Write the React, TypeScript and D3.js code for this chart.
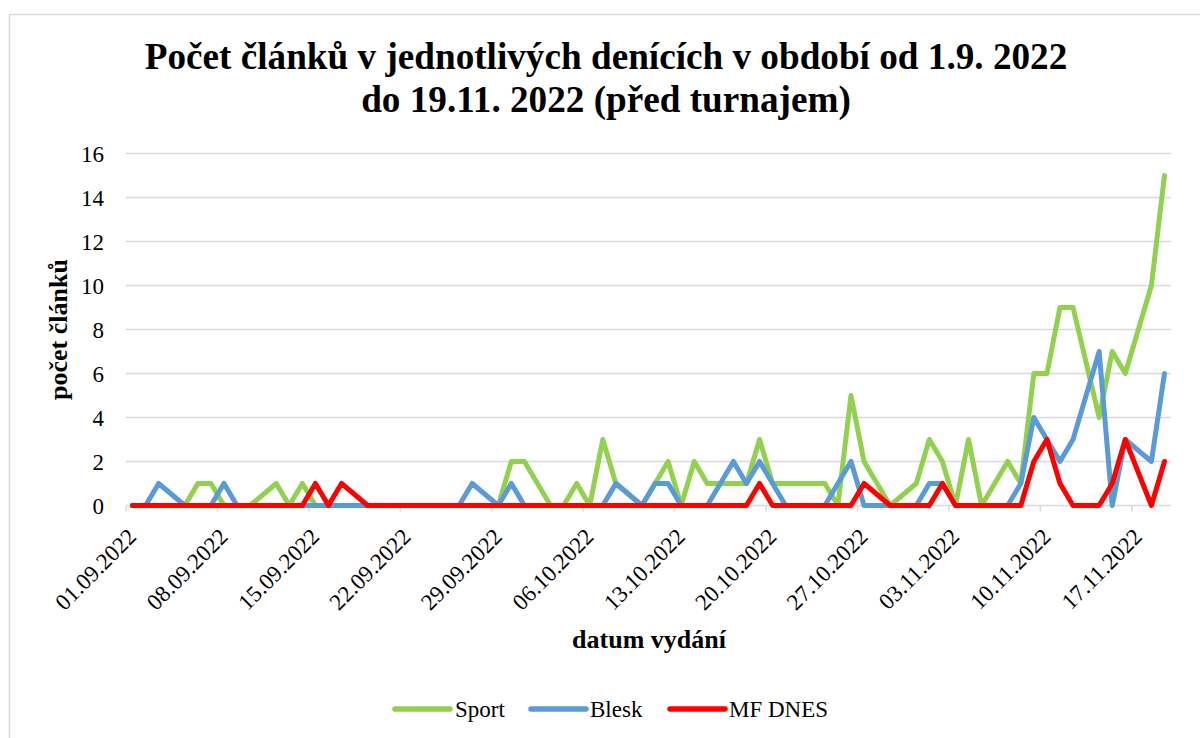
import React from 'react';
import * as d3 from 'd3';

// datumy vydání (bez nedělí a svátků)
const datumy = [
  '01.09.2022', '02.09.2022', '03.09.2022', '05.09.2022', '06.09.2022', '07.09.2022', '08.09.2022',
  '09.09.2022', '10.09.2022', '12.09.2022', '13.09.2022', '14.09.2022', '15.09.2022', '16.09.2022',
  '17.09.2022', '19.09.2022', '20.09.2022', '21.09.2022', '22.09.2022', '23.09.2022', '24.09.2022',
  '26.09.2022', '27.09.2022', '29.09.2022', '30.09.2022', '01.10.2022', '03.10.2022', '04.10.2022',
  '05.10.2022', '06.10.2022', '07.10.2022', '08.10.2022', '10.10.2022', '11.10.2022', '12.10.2022',
  '13.10.2022', '14.10.2022', '15.10.2022', '17.10.2022', '18.10.2022', '19.10.2022', '20.10.2022',
  '21.10.2022', '22.10.2022', '24.10.2022', '25.10.2022', '26.10.2022', '27.10.2022', '29.10.2022',
  '31.10.2022', '01.11.2022', '02.11.2022', '03.11.2022', '04.11.2022', '05.11.2022', '07.11.2022',
  '08.11.2022', '09.11.2022', '10.11.2022', '11.11.2022', '12.11.2022', '14.11.2022', '15.11.2022',
  '16.11.2022', '18.11.2022', '19.11.2022',
];

const sport = [
  0, 0, 0, 0, 1, 1, 0,
  0, 0, 1, 0, 1, 0, 0,
  0, 0, 0, 0, 0, 0, 0,
  0, 0, 0, 2, 2, 0, 0,
  1, 0, 3, 1, 0, 1, 2,
  0, 2, 1, 1, 1, 3, 1,
  1, 1, 1, 0, 5, 2, 0,
  1, 3, 2, 0, 3, 0, 2,
  1, 6, 6, 9, 9, 4, 7,
  6, 10, 15,
];

const blesk = [
  0, 0, 1, 0, 0, 0, 1,
  0, 0, 0, 0, 0, 0, 0,
  0, 0, 0, 0, 0, 0, 0,
  0, 1, 0, 1, 0, 0, 0,
  0, 0, 0, 1, 0, 1, 1,
  0, 0, 0, 2, 1, 2, 1,
  0, 0, 0, 1, 2, 0, 0,
  0, 1, 1, 0, 0, 0, 0,
  1, 4, 3, 2, 3, 7, 0,
  3, 2, 6,
];

const mfDnes = [
  0, 0, 0, 0, 0, 0, 0,
  0, 0, 0, 0, 0, 1, 0,
  1, 0, 0, 0, 0, 0, 0,
  0, 0, 0, 0, 0, 0, 0,
  0, 0, 0, 0, 0, 0, 0,
  0, 0, 0, 0, 0, 1, 0,
  0, 0, 0, 0, 0, 1, 0,
  0, 0, 1, 0, 0, 0, 0,
  0, 2, 3, 1, 0, 0, 1,
  3, 0, 2,
];

const yTicks = [0, 2, 4, 6, 8, 10, 12, 14, 16];

const serie = [
  { nazev: 'Sport', hodnoty: sport, barva: '#92D050' },
  { nazev: 'Blesk', hodnoty: blesk, barva: '#5B9BD5' },
  { nazev: 'MF DNES', hodnoty: mfDnes, barva: '#FF0000' },
];

const parse = d3.utcParse('%d.%m.%Y');
const formatDatum = d3.utcFormat('%d.%m.%Y');

export default function App() {
  const width = 1200;
  const height = 738;
  const left = 126;
  const right = 1171;
  const top = 153.5;
  const bottom = 505.5;

  const start = parse('01.09.2022') as Date;
  const end = d3.utcDay.offset(parse('19.11.2022') as Date, 1);

  const x = d3.scaleUtc().domain([start, end]).range([left, right]);
  const y = d3.scaleLinear().domain([0, 16]).range([bottom, top]);

  const dny = datumy.map((d) => d3.utcHour.offset(parse(d) as Date, 12));
  const xTicks = d3.utcDay.range(start, end, 7);

  const font = "'Liberation Serif', 'Times New Roman', serif";

  const line = d3.line<number>()
    .x((_, i) => x(dny[i]))
    .y((d) => y(d));

  const legenda = [
    { x0: 395, tx: 455 },
    { x0: 531, tx: 590 },
    { x0: 670, tx: 729 },
  ];

  return (
    <svg
      width={width}
      height={height}
      style={{ position: 'absolute', left: 0, top: 0, background: '#fff', fontFamily: font }}
    >
      <rect x={9.5} y={14.5} width={1200} height={740} fill="#fff" stroke="#d9d9d9" strokeWidth={1.5} />

      <text x={606} y={69} textAnchor="middle" fontSize={37.2} fontWeight="bold" fill="#000">
        Počet článků v jednotlivých denících v období od 1.9. 2022
      </text>
      <text x={606} y={112} textAnchor="middle" fontSize={37.2} fontWeight="bold" fill="#000">
        do 19.11. 2022 (před turnajem)
      </text>

      {yTicks.map((t) => (
        <g key={t}>
          {t > 0 && (
            <line x1={left} x2={right} y1={y(t)} y2={y(t)} stroke="#d9d9d9" strokeWidth={1.5} />
          )}
          <text x={104} y={y(t)} dy="0.35em" textAnchor="end" fontSize={23} fill="#000">
            {t}
          </text>
        </g>
      ))}

      <line x1={left} x2={right} y1={bottom} y2={bottom} stroke="#d9d9d9" strokeWidth={1.5} />
      {xTicks.map((t) => (
        <g key={t.getTime()}>
          <line x1={x(t)} x2={x(t)} y1={bottom} y2={bottom + 6} stroke="#d9d9d9" strokeWidth={1.5} />
          <text
            transform={`translate(${x(t) + 6},${bottom + 27}) rotate(-45)`}
            dy="0.35em"
            textAnchor="end"
            fontSize={23}
            fill="#000"
          >
            {formatDatum(t)}
          </text>
        </g>
      ))}

      {serie.map((s) => (
        <path
          key={s.nazev}
          d={line(s.hodnoty) ?? ''}
          fill="none"
          stroke={s.barva}
          strokeWidth={5}
          strokeLinejoin="round"
          strokeLinecap="round"
        />
      ))}

      <text
        transform={`translate(67,${(top + bottom) / 2}) rotate(-90)`}
        textAnchor="middle"
        fontSize={26}
        fontWeight="bold"
        fill="#000"
      >
        počet článků
      </text>
      <text x={649} y={648} textAnchor="middle" fontSize={26} fontWeight="bold" fill="#000">
        datum vydání
      </text>

      {serie.map((s, i) => (
        <g key={s.nazev}>
          <line
            x1={legenda[i].x0}
            x2={legenda[i].x0 + 55}
            y1={709}
            y2={709}
            stroke={s.barva}
            strokeWidth={5.5}
            strokeLinecap="round"
          />
          <text x={legenda[i].tx} y={709} dy="0.35em" fontSize={23} fill="#000">
            {s.nazev}
          </text>
        </g>
      ))}
    </svg>
  );
}
